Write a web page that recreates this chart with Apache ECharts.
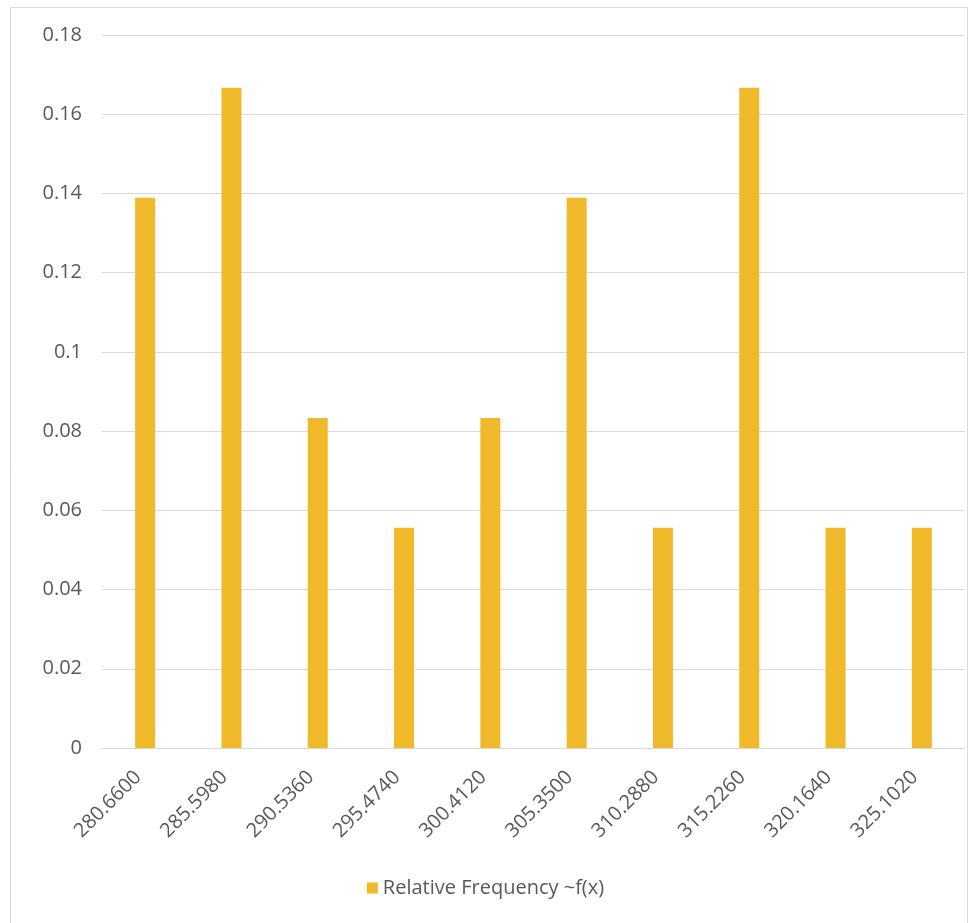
<!DOCTYPE html>
<html><head><meta charset="utf-8">
<script src="https://cdn.jsdelivr.net/npm/echarts@6/dist/echarts.min.js"></script>
<style>html,body{margin:0;padding:0;background:#fff}#c{width:971px;height:923px}</style>
</head><body><div id="c"></div>
<script>
const categories = ['280.6600','285.5980','290.5360','295.4740','300.4120','305.3500','310.2880','315.2260','320.1640','325.1020'];
const relFreq = [0.1389,0.1667,0.0833,0.0556,0.0833,0.1389,0.0556,0.1667,0.0556,0.0556];
const seriesName = 'Relative Frequency ~f(x)';
const yTicks = [0,0.02,0.04,0.06,0.08,0.1,0.12,0.14,0.16,0.18];

const chart = echarts.init(document.getElementById('c'), null, {renderer:'canvas'});
const font = '"Open Sans", "Noto Sans", sans-serif';
chart.setOption({
  animation:false,
  graphic:[{type:'rect',shape:{x:10.5,y:7.5,width:957,height:930},style:{fill:'none',stroke:'#d9d9d9',lineWidth:1},silent:true}],
  grid:{left:102,right:6,top:35,bottom:175,containLabel:false},
  legend:{bottom:20,left:'center',itemWidth:11,itemHeight:11,icon:'rect',itemGap:7,
    textStyle:{color:'#595959',fontSize:20,fontFamily:font},data:[seriesName]},
  xAxis:{type:'category',data:categories,
    axisLine:{lineStyle:{color:'#d9d9d9'}},axisTick:{show:false},
    axisLabel:{rotate:45,color:'#595959',fontSize:20,fontFamily:font,margin:19,interval:0,padding:[0,10,0,0]}},
  yAxis:{type:'value',min:0,max:0.18,interval:0.02,
    axisLine:{show:false},axisTick:{show:false},
    splitLine:{lineStyle:{color:'#d9d9d9'}},
    axisLabel:{color:'#595959',fontSize:20,fontFamily:font,margin:20,
      formatter:function(v){const t=yTicks.find(x=>Math.abs(x-v)<1e-9);return String(+(t!==undefined?t:v).toFixed(2));}}},
  series:[{name:seriesName,type:'bar',data:relFreq,barWidth:20,itemStyle:{color:'#F0B92A'}}]
});
</script></body></html>
